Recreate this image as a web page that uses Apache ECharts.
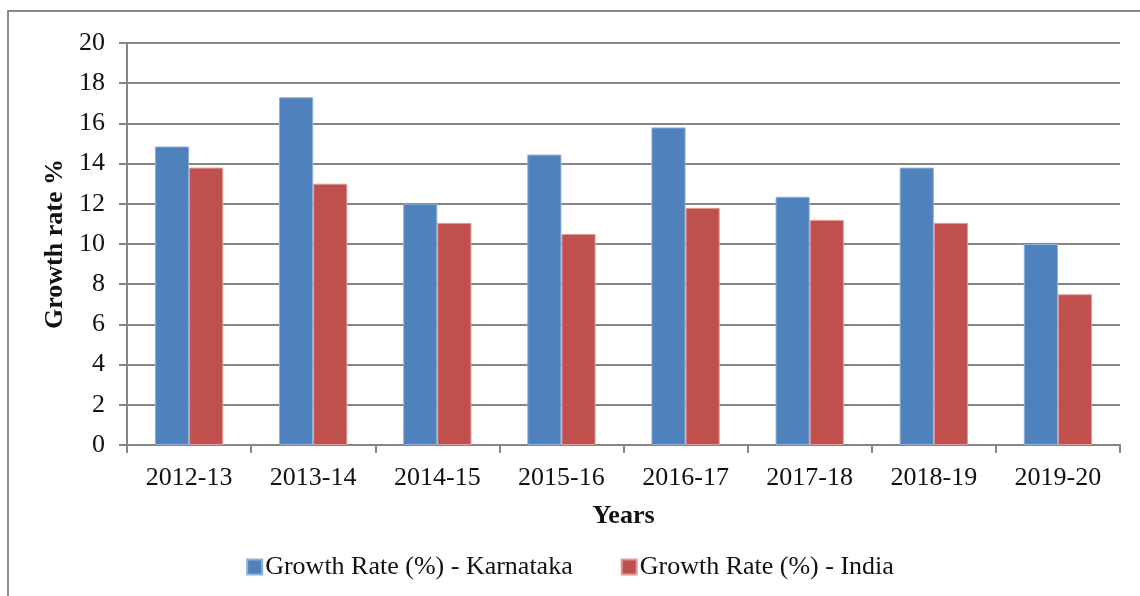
<!DOCTYPE html>
<html>
<head>
<meta charset="utf-8">
<script src="https://cdn.jsdelivr.net/npm/echarts@6/dist/echarts.min.js"></script>
<style>
  html, body { margin: 0; padding: 0; background: #fff; }
  #chart { width: 1140px; height: 596px; }
</style>
</head>
<body>
<div id="chart"></div>
<script>
var years = ['2012-13', '2013-14', '2014-15', '2015-16', '2016-17', '2017-18', '2018-19', '2019-20'];
var karnataka = [14.85, 17.3, 12.0, 14.45, 15.8, 12.35, 13.8, 10.0];
var india = [13.8, 13.0, 11.05, 10.5, 11.8, 11.2, 11.05, 7.5];
var yTicks = [0, 2, 4, 6, 8, 10, 12, 14, 16, 18, 20];

var serif = 'Liberation Serif';
var chart = echarts.init(document.getElementById('chart'));

chart.setOption({
  animation: false,
  textStyle: { fontFamily: serif },
  // outer chart frame
  graphic: [{
    type: 'rect',
    shape: { x: 8, y: 11, width: 1150, height: 600 },
    style: { fill: 'none', stroke: '#8c8c8c', lineWidth: 2 }
  }],
  grid: { left: 127, right: 20, top: 43, bottom: 151 },
  legend: {
    bottom: 11,
    left: 'center',
    itemWidth: 15,
    itemHeight: 15,
    itemGap: 48,
    icon: 'rect',
    textStyle: { fontFamily: serif, fontSize: 26, color: '#111', padding: [0, 0, 0, -2] },
    data: ['Growth Rate (%) - Karnataka', 'Growth Rate (%) - India']
  },
  xAxis: {
    type: 'category',
    data: years,
    name: 'Years',
    nameLocation: 'middle',
    nameGap: 58,
    nameTextStyle: { fontFamily: serif, fontSize: 26, fontWeight: 'bold', color: '#111' },
    axisLine: { lineStyle: { color: '#868686', width: 2 } },
    axisTick: { show: true, length: 8, lineStyle: { color: '#868686', width: 2 } },
    axisLabel: { fontFamily: serif, fontSize: 26, color: '#111', margin: 20 }
  },
  yAxis: {
    type: 'value',
    min: yTicks[0],
    max: yTicks[yTicks.length - 1],
    interval: 2,
    name: 'Growth rate %',
    nameLocation: 'middle',
    nameGap: 52,
    nameRotate: 90,
    nameTextStyle: { fontFamily: serif, fontSize: 26, fontWeight: 'bold', color: '#111' },
    axisLine: { show: true, lineStyle: { color: '#868686', width: 2 } },
    axisTick: { show: true, length: 8, lineStyle: { color: '#868686', width: 2 } },
    axisLabel: { fontFamily: serif, fontSize: 26, color: '#111', margin: 22 },
    splitLine: { lineStyle: { color: '#868686', width: 2 } }
  },
  series: [{
    name: 'Growth Rate (%) - Karnataka',
    type: 'bar',
    data: karnataka,
    barGap: '0%',
    barCategoryGap: '45%',
    itemStyle: { color: '#4F81BD', borderColor: '#8fb0da', borderWidth: 1 }
  }, {
    name: 'Growth Rate (%) - India',
    type: 'bar',
    data: india,
    itemStyle: { color: '#C0504D', borderColor: '#e09a98', borderWidth: 1 }
  }]
});
</script>
</body>
</html>
